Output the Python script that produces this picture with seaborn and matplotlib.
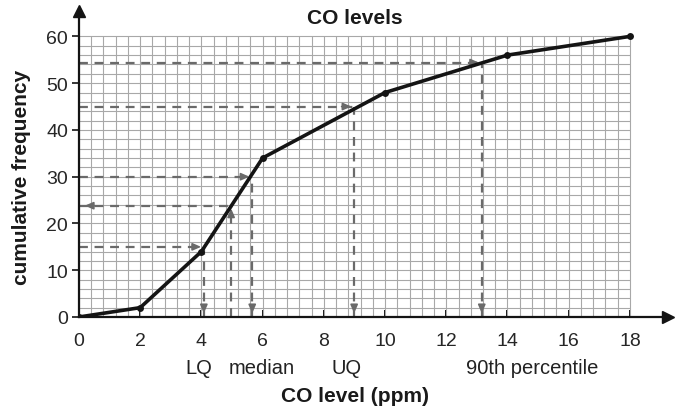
import seaborn as sns
import matplotlib.pyplot as plt
import matplotlib.transforms as mtrans
import pandas as pd

co_level = [0, 2, 4, 6, 10, 14, 18]
cum_freq = [0, 2, 14, 34, 48, 56, 60]

# dashed read-off lines: (x on curve, y value, direction)
readoffs = [(4.08, 15, "down"), (4.97, 23.8, "left"), (5.66, 30, "down"),
            (8.99, 45, "down"), (13.16, 54.4, "down")]
quart_labels = ["LQ", "median", "UQ", "90th percentile"]
quart_pos = [3.92, 5.98, 8.73, 14.8]

sns.set_style("white")
plt.rcParams["font.family"] = ["Liberation Sans", "DejaVu Sans"]

fig = plt.figure(figsize=(6.78, 4.10), dpi=100)
ax = fig.add_axes([0.1165, 0.2244, 0.869, 0.746])
ax.set_xlim(0, 19.25)
ax.set_ylim(0, 65.4)

# graph paper
grid_c = "#a8a8a8"
for i in range(46):
    ax.plot([i * 0.4, i * 0.4], [0, 60], color=grid_c, lw=0.8, zorder=1)
for j in range(31):
    ax.plot([0, 18], [j * 2, j * 2], color=grid_c, lw=0.8, zorder=1)

dash_c = "#6a6a6a"
hw = dict(arrowstyle="-|>,head_length=0.5,head_width=0.22", color=dash_c, lw=1.2)
for x, y, d in readoffs:
    ax.plot([0, x], [y, y], ls=(0, (4, 3)), color=dash_c, lw=1.6, zorder=2)
    ax.plot([x, x], [0, y], ls=(0, (4, 3)), color=dash_c, lw=1.6, zorder=2)
    if d == "down":
        ax.annotate("", xy=(x, y), xytext=(x - 0.5, y), arrowprops=hw, zorder=3)
        ax.annotate("", xy=(x, 0.2), xytext=(x, 3), arrowprops=hw, zorder=3)
    else:
        ax.annotate("", xy=(x, y), xytext=(x, y - 3), arrowprops=hw, zorder=3)
        ax.annotate("", xy=(0.1, y), xytext=(0.6, y), arrowprops=hw, zorder=3)

df = pd.DataFrame({"co": co_level, "cf": cum_freq})
sns.lineplot(data=df, x="co", y="cf", color="#141414", lw=2.6, marker="o",
             markersize=5, markeredgewidth=0, ax=ax, zorder=4)

for s in ["top", "right"]:
    ax.spines[s].set_visible(False)
for s in ["left", "bottom"]:
    ax.spines[s].set_color("#141414")
    ax.spines[s].set_linewidth(1.6)
ax.plot(1, 0, ">", color="#141414", markersize=8, transform=ax.transAxes, clip_on=False)
ax.plot(0, 1, "^", color="#141414", markersize=8, transform=ax.transAxes, clip_on=False)

ax.set_xticks(range(0, 19, 2))
ax.set_yticks(range(0, 61, 10))
ax.tick_params(axis="x", direction="in", length=5, width=1.4, labelsize=14, pad=11, color="#141414")
ax.tick_params(axis="y", direction="out", length=5, width=1.2, labelsize=14, pad=3, color="#141414")
ax.xaxis.set_ticks_position("bottom")
ax.yaxis.set_ticks_position("left")
ax.set_xlabel("")
ax.set_ylabel("")

trans = mtrans.blended_transform_factory(ax.transData, fig.transFigure)
for lab, xp in zip(quart_labels, quart_pos):
    ax.text(xp, 0.1024, lab, transform=trans, ha="center", va="center",
            fontsize=14.5, color="#222222")

fig.text(0.524, 0.956, "CO levels", ha="center", va="center", fontsize=15, fontweight="bold",
         color="#1a1a1a")
fig.text(0.524, 0.032, "CO level (ppm)", ha="center", va="center", fontsize=15, fontweight="bold",
         color="#1a1a1a")
fig.text(0.032, 0.568, "cumulative frequency", ha="center", va="center", rotation=90,
         fontsize=15, fontweight="bold", color="#1a1a1a")

fig.savefig("out.png", dpi=100)
